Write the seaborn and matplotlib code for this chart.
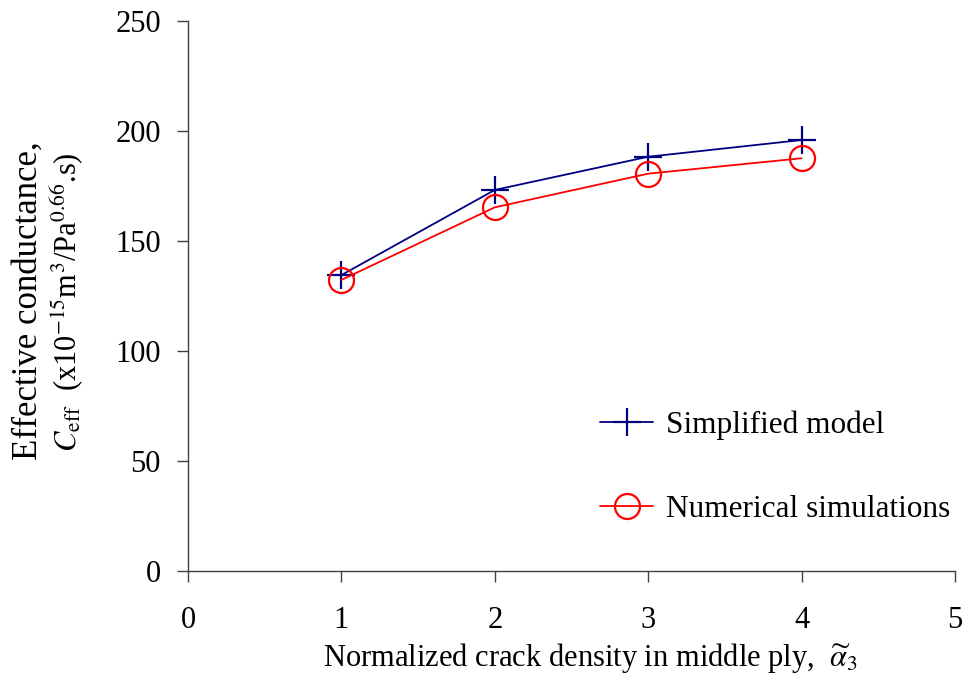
import matplotlib
matplotlib.use("Agg")
import matplotlib.pyplot as plt
import seaborn as sns
import pandas as pd

crack_density = [1, 2, 3, 4]
simplified = [134.5, 173.2, 188.3, 195.9]
numerical = [132.3, 165.3, 180.6, 187.6]
x_ticks = [0, 1, 2, 3, 4, 5]
y_ticks = [0, 50, 100, 150, 200, 250]

sns.set_theme(style="white")
plt.rcParams['font.family'] = ['Liberation Serif', 'DejaVu Serif']
plt.rcParams['mathtext.fontset'] = 'stix'
plt.rcParams['text.color'] = 'black'

df_s = pd.DataFrame({"x": crack_density, "y": simplified})
df_n = pd.DataFrame({"x": crack_density, "y": numerical})

fig = plt.figure(figsize=(9.66, 6.73), dpi=100)
ax = fig.add_axes([0.1946, 0.1516, 0.794, 0.8172])

sns.lineplot(data=df_s, x="x", y="y", ax=ax, color="#000080", marker="+",
             markersize=20, markeredgewidth=1.6, markeredgecolor="#000080",
             linewidth=1.3, label="Simplified model")
sns.lineplot(data=df_n, x="x", y="y", ax=ax, color="#FF0000", marker="o",
             markersize=18, markerfacecolor="none", markeredgecolor="#FF0000",
             markeredgewidth=1.6, linewidth=1.3, label="Numerical simulations")

ax.set_xlim(0, 5)
ax.set_ylim(0, 250)
ax.set_xticks(x_ticks)
ax.set_yticks(y_ticks)
ax.tick_params(axis="both", direction="out", length=8, width=1, color="#404040",
               labelcolor="black", labelsize=22, bottom=True, left=True)
ax.tick_params(axis="y", pad=11.5)
ax.tick_params(axis="x", pad=17)
for s in ["top", "right"]:
    ax.spines[s].set_visible(False)
for s in ["left", "bottom"]:
    ax.spines[s].set_color("#404040")
    ax.spines[s].set_linewidth(1)

ax.set_xlabel(r"Normalized crack density in middle ply,  $\widetilde{\alpha}_3$",
              fontsize=22, labelpad=2, color="black")
ax.xaxis.set_label_coords(0.525, -0.127, transform=ax.transAxes)
ax.xaxis.label.set_va("top")
ax.set_ylabel("")
fig.text(0.029, 0.554, "Effective conductance,", rotation=90, fontsize=25,
         ha="center", va="center")
fig.text(0.070, 0.551,
         r"$C$$_{\mathrm{eff}}$  (x10$^{-15}$m$^{3}$/Pa$^{0.66}$.s)",
         rotation=90, fontsize=22, ha="center", va="center")

leg = ax.legend(loc="lower right", bbox_to_anchor=(1.03, 0.035), frameon=False,
                fontsize=22.5, handlelength=1.7, labelspacing=1.75,
                handletextpad=0.4)

fig.savefig("out.png", dpi=100)
